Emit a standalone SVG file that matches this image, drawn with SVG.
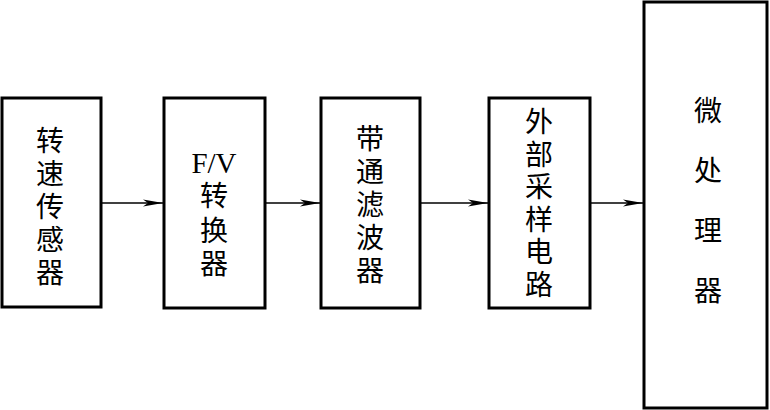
<svg xmlns="http://www.w3.org/2000/svg" width="770" height="410" viewBox="0 0 770 410">
<style>
.box{fill:#fff;stroke:#000;stroke-width:3}
.cn{font-family:"Noto Sans CJK SC","Noto Sans CJK TC",sans-serif;font-size:28px;fill:#000;text-anchor:middle}
.lat{font-family:"Liberation Serif",serif;font-size:29px;fill:#000;text-anchor:middle}
.conn{stroke:#000;stroke-width:1.6;fill:none}
</style>
<defs>
<marker id="arr" markerUnits="userSpaceOnUse" markerWidth="22" markerHeight="10" refX="20" refY="5" orient="auto">
<path d="M0,1.5 L20,5 L0,8.5 L5,5 Z" fill="#000"/>
</marker>
</defs>
<rect width="770" height="410" fill="#fff"/>
<g id="n1">
<rect class="box" x="2" y="98" width="99" height="209"/>
<text class="cn"><tspan x="50" y="151">转</tspan><tspan x="50" y="184">速</tspan><tspan x="50" y="217">传</tspan><tspan x="50" y="250">感</tspan><tspan x="50" y="283">器</tspan></text>
</g>
<g id="n2">
<rect class="box" x="164" y="98" width="101" height="210"/>
<text class="lat" x="214" y="173">F/V</text>
<text class="cn"><tspan x="214" y="206">转</tspan><tspan x="214" y="241">换</tspan><tspan x="214" y="274">器</tspan></text>
</g>
<g id="n3">
<rect class="box" x="321" y="98" width="99" height="210"/>
<text class="cn"><tspan x="370" y="149">带</tspan><tspan x="370" y="182">通</tspan><tspan x="370" y="215">滤</tspan><tspan x="370" y="248">波</tspan><tspan x="370" y="281">器</tspan></text>
</g>
<g id="n4">
<rect class="box" x="489" y="98" width="101" height="210"/>
<text class="cn"><tspan x="539" y="132">外</tspan><tspan x="539" y="165">部</tspan><tspan x="539" y="197">采</tspan><tspan x="539" y="230">样</tspan><tspan x="539" y="262">电</tspan><tspan x="539" y="295">路</tspan></text>
</g>
<g id="n5">
<rect class="box" x="644" y="2" width="123" height="406"/>
<text class="cn"><tspan x="708" y="121">微</tspan><tspan x="708" y="181">处</tspan><tspan x="708" y="241">理</tspan><tspan x="708" y="301">器</tspan></text>
</g>
<g id="connectors">
<line class="conn" x1="102" y1="203" x2="163" y2="203" marker-end="url(#arr)"/>
<line class="conn" x1="266" y1="203" x2="320" y2="203" marker-end="url(#arr)"/>
<line class="conn" x1="421" y1="203" x2="488" y2="203" marker-end="url(#arr)"/>
<line class="conn" x1="591" y1="203" x2="643" y2="203" marker-end="url(#arr)"/>
</g>
</svg>
